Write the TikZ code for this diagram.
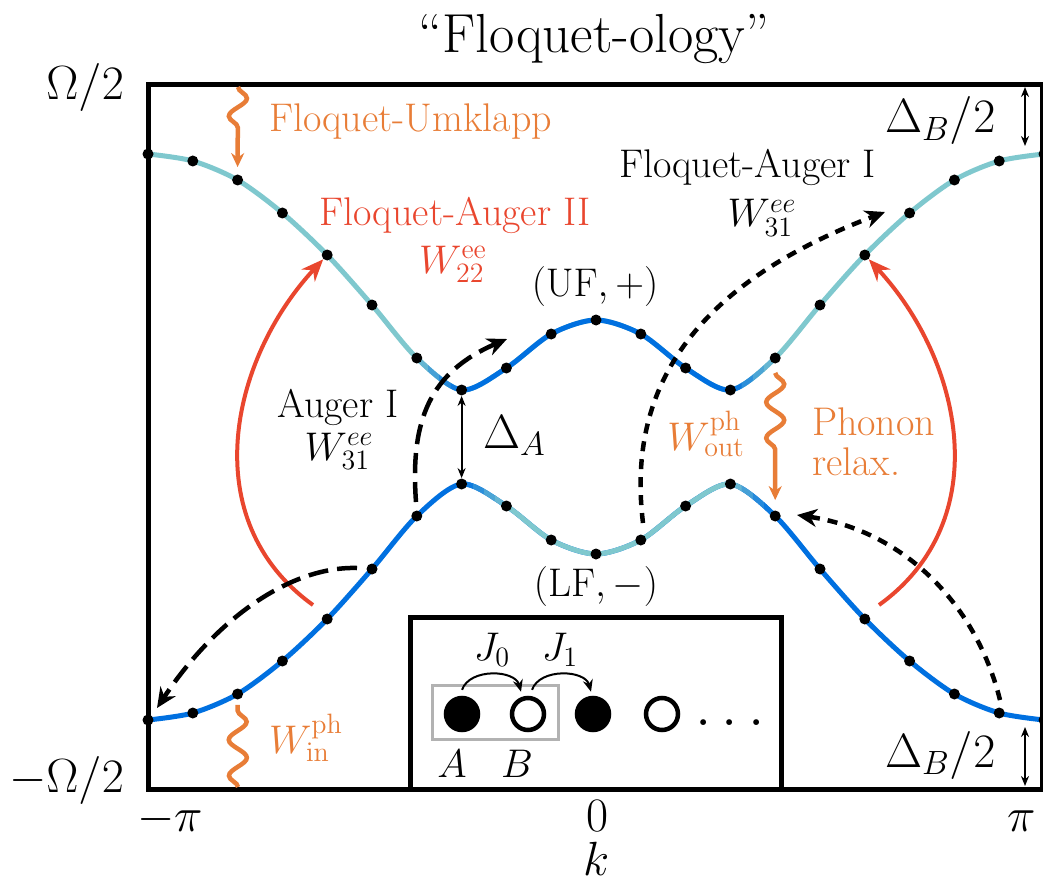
\RequirePackage{fix-cm}
\documentclass[tikz,border=0pt]{standalone}
\usetikzlibrary{arrows.meta,decorations.pathmorphing}
\definecolor{bandcyan}{RGB}{127,200,206}
\definecolor{bandblue}{RGB}{0,112,224}
\definecolor{phorange}{RGB}{232,125,55}
\definecolor{augred}{RGB}{233,70,46}
\tikzset{
    band/.style={line width=2.5pt},
    dot/.style={circle,fill=black,inner sep=0pt,minimum size=5.5pt},
    lab/.style={font=\fontsize{20}{24}\selectfont},
    biglab/.style={font=\fontsize{24}{28}\selectfont},
    redarrow/.style={augred,line width=2pt,-{Stealth[length=11pt,width=9pt]}},
    longdash/.style={line width=2.25pt,dash pattern=on 10pt off 4.5pt,-{Stealth[length=10pt,width=9pt]}},
    shortdash/.style={line width=2.25pt,dash pattern=on 5pt off 4pt,-{Stealth[length=10pt,width=9pt]}},
    wavy/.style={phorange,line width=2.25pt,decorate,decoration={snake,amplitude=4.5pt,segment length=18pt}},
    gaparrow/.style={line width=1pt,{Stealth[length=5pt,width=4pt]}-{Stealth[length=5pt,width=4pt]}},
    site/.style={circle,draw,line width=2.25pt,minimum size=16pt,inner sep=0pt},
    hop/.style={line width=1pt,-{Stealth[length=6pt,width=5pt]}}
}
\newcommand{\upperband}{plot[smooth] coordinates {(148,154) (192.8,161) (237.6,180) (282.4,213) (327.2,255) (372,305) (416.8,358) (461.6,390) (506.4,368) (551.2,334) (596,320) (640.8,334) (685.6,368) (730.4,390) (775.2,358) (820,305) (864.8,255) (909.6,213) (954.4,180) (999.2,161) (1044,154)}}
\newcommand{\lowerband}{plot[smooth] coordinates {(148,720) (192.8,713) (237.6,694) (282.4,661) (327.2,619) (372,569) (416.8,516) (461.6,484) (506.4,506) (551.2,540) (596,554) (640.8,540) (685.6,506) (730.4,484) (775.2,516) (820,569) (864.8,619) (909.6,661) (954.4,694) (999.2,713) (1044,720)}}
\begin{document}
\begin{tikzpicture}[x=0.5pt,y=-0.5pt]
    \useasboundingbox (0,0) rectangle (1043,882);
    % frame and inset
    \draw [line width=2.5pt] (148,85) rectangle (1042,789);
    \draw [line width=2.5pt,fill=white] (410,617) rectangle (781,789);
    \draw [gray!60,line width=1.5pt] (432,685) rectangle (558,739);
    % upper band
    \draw [band,bandcyan] \upperband;
    \begin{scope}\clip (461.6,0) rectangle (730.4,882);\draw [band,bandblue] \upperband;\end{scope}
    \foreach \s/\c in {0/20,1/45,2/70,3/90} {
        \begin{scope}\clip ({416.8+11.2*\s},0) rectangle ++(11.4,882);\draw [band,bandblue!\c!bandcyan] \upperband;\end{scope}
        \begin{scope}\clip ({730.4+11.2*\s},0) rectangle ++(11.4,882);\draw [band,bandblue!\the\numexpr110-\c\relax!bandcyan] \upperband;\end{scope}
    }
    % lower band
    \draw [band,bandblue] \lowerband;
    \begin{scope}\clip (506.4,0) rectangle (730.4,882);\draw [band,bandcyan] \lowerband;\end{scope}
    \foreach \s/\c in {0/20,1/45,2/70,3/90} {
        \begin{scope}\clip ({461.6+11.2*\s},0) rectangle ++(11.4,882);\draw [band,bandblue!\the\numexpr110-\c\relax!bandcyan] \lowerband;\end{scope}
        \begin{scope}\clip ({730.4+11.2*\s},0) rectangle ++(11.4,882);\draw [band,bandblue!\c!bandcyan] \lowerband;\end{scope}
    }
    % k points
    \foreach \i/\d in {-10/283,-9/276,-8/257,-7/224,-6/182,-5/132,-4/79,-3/47,-2/69,-1/103,0/117,1/103,2/69,3/47,4/79,5/132,6/182,7/224,8/257,9/276,10/283} {
        \node [dot] (u\i) at ({596+44.8*\i},{437-\d}) {};
        \node [dot] (l\i) at ({596+44.8*\i},{437+\d}) {};
    }
    % free ends
    \coordinate (umkS) at (238,87);\coordinate (winS) at (238,787);
    \coordinate (fa2L) at (313,605);\coordinate (fa2R) at (879,605);
    \coordinate (auS) at (416,502);\coordinate (auE) at (507,339);
    \coordinate (aleftS) at (357,568);\coordinate (aleftE) at (157,708);
    \coordinate (fa1S) at (643,523);\coordinate (fa1E) at (885,212);
    \coordinate (fbS) at (1000,700);\coordinate (fbE) at (797,515);
    \coordinate (dbt1) at (1025,87);\coordinate (dbt2) at (1025,146);
    \coordinate (dbb1) at (1025,727);\coordinate (dbb2) at (1025,786);
    % processes
    \draw [wavy,decoration={post length=16pt},-{Stealth[length=7pt,width=6.5pt]}] (umkS) -- ([yshift=3.5pt]u-8.north);
    \draw [wavy] (winS) -- ([yshift=-2.5pt]l-8.south);
    \draw [wavy,decoration={post length=20pt},-{Stealth[length=7pt,width=6.5pt]}] ([yshift=-4.5pt]u4.south) -- ([yshift=5pt]l4.north);
    \draw [redarrow] (fa2L) .. controls (195,520) and (230,360) .. (u-6);
    \draw [redarrow] (fa2R) .. controls (997,520) and (962,360) .. (u6);
    \draw [longdash] (auS) .. controls (410,420) and (430,372) .. (auE);
    \draw [longdash] (aleftS) .. controls (290,566) and (215,620) .. (aleftE);
    \draw [shortdash] (fa1S) .. controls (628,400) and (680,290) .. (fa1E);
    \draw [shortdash] (fbS) .. controls (975,600) and (900,530) .. (fbE);
    \draw [gaparrow] (u-3) -- (l-3);
    \draw [gaparrow] (dbt1) -- (dbt2);\draw [gaparrow] (dbb1) -- (dbb2);
    % lattice
    \node [site,fill=black] (sA) at (462,714) {};\node [site] (sB) at (528,714) {};
    \node [site,fill=black] (sC) at (593,714) {};\node [site] (sD) at (662,714) {};
    \node [font=\fontsize{30}{30}\selectfont,anchor=base] (more) at (730,725) {$\ldots$};
    \draw [hop] ([yshift=3pt]sA.north) .. controls +(8,-22) and +(-6,-22) .. ([xshift=-3.5pt,yshift=2pt]sB.north);
    \draw [hop] ([xshift=2pt,yshift=3pt]sB.north) .. controls +(8,-22) and +(-6,-22) .. ([xshift=-1pt,yshift=2pt]sC.north);
    \node [lab] (J0) at (492,650) {$J_0$};\node [lab] (J1) at (560,650) {$J_1$};
    \node [lab,anchor=base] (labA) at (452,777) {$A$};\node [lab,anchor=base] (labB) at (517,777) {$B$};
    % labels
    \node [font=\fontsize{27.5}{32}\selectfont,anchor=base] (title) at (594,53) {``Floquet-ology''};
    \node [biglab,anchor=base east] (ytop) at (131,100) {$\Omega/2$};
    \node [biglab,anchor=base east] (ybot) at (131,792) {$-\Omega/2$};
    \node [biglab,anchor=base] (xmin) at (170,831) {$-\pi$};
    \node [biglab,anchor=base] (xzero) at (597,831) {$0$};
    \node [biglab,anchor=base] (xmax) at (1022,831) {$\pi$};
    \node [biglab,anchor=base,inner sep=1pt] (klab) at (597,875) {$k$};
    \node [lab,phorange,anchor=base west] (umklapp) at (262,132) {Floquet-Umklapp};
    \node [lab,augred,anchor=base] (fauger2) at (455,226) {Floquet-Auger II};
    \node [lab,augred,anchor=base] (w22) at (453,273) {$W^{\mathrm{ee}}_{22}$};
    \node [lab,anchor=base west] (fauger1) at (612,178) {Floquet-Auger I};
    \node [lab,anchor=base] (w31r) at (762,227) {$W^{ee}_{31}$};
    \node [lab,anchor=base] (auger1) at (338,417) {Auger I};
    \node [lab,anchor=base] (w31l) at (339,460) {$W^{ee}_{31}$};
    \node [lab,anchor=base] (uf) at (595,296) {$(\mathrm{UF},+)$};
    \node [lab,anchor=base] (lf) at (596,596) {$(\mathrm{LF},-)$};
    \node [biglab,anchor=base west] (gapA) at (476,448) {$\Delta_A$};
    \node [biglab,anchor=base west] (gapBt) at (878,133) {$\Delta_B/2$};
    \node [biglab,anchor=base west] (gapBb) at (878,767) {$\Delta_B/2$};
    \node [lab,phorange,anchor=base east] (wout) at (752,450) {$W^{\mathrm{ph}}_{\mathrm{out}}$};
    \node [lab,phorange,anchor=base west] (phonon) at (805,435) {Phonon};
    \node [lab,phorange,anchor=base west] (relax) at (805,475) {relax.};
    \node [lab,phorange,anchor=base west] (win) at (262,753) {$W^{\mathrm{ph}}_{\mathrm{in}}$};
\end{tikzpicture}
\end{document}
